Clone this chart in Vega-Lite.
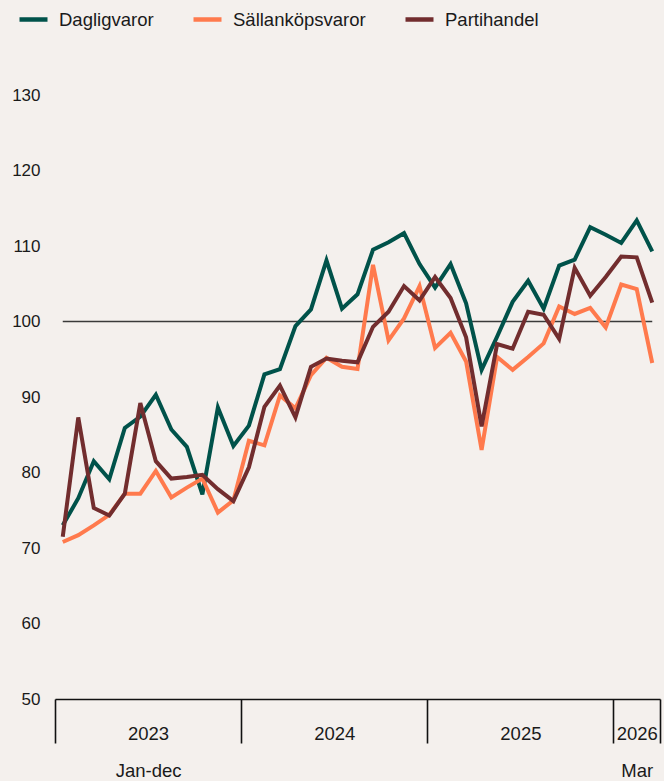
{
  "$schema": "https://vega.github.io/schema/vega-lite/v6.json",
  "width": 605,
  "height": 604,
  "autosize": {"type": "none"},
  "padding": {"left": 55, "top": 95, "right": 4, "bottom": 82},
  "background": "#f4f0ed",
  "config": {
    "view": {"stroke": null},
    "font": "Liberation Sans",
    "axis": {"labelFont": "Liberation Sans", "labelColor": "#1a1a1a", "grid": false},
    "legend": {"labelFont": "Liberation Sans"}
  },
  "datasets": {
    "index": [
      {"t": 0, "month": "2023-01", "Dagligvaror": 73.0, "Sällanköpsvaror": 70.8, "Partihandel": 71.5},
      {"t": 1, "month": "2023-02", "Dagligvaror": 76.6, "Sällanköpsvaror": 71.7, "Partihandel": 87.3},
      {"t": 2, "month": "2023-03", "Dagligvaror": 81.5, "Sällanköpsvaror": 73.0, "Partihandel": 75.3},
      {"t": 3, "month": "2023-04", "Dagligvaror": 79.1, "Sällanköpsvaror": 74.4, "Partihandel": 74.3},
      {"t": 4, "month": "2023-05", "Dagligvaror": 85.9, "Sällanköpsvaror": 77.2, "Partihandel": 77.2},
      {"t": 5, "month": "2023-06", "Dagligvaror": 87.4, "Sällanköpsvaror": 77.2, "Partihandel": 89.2},
      {"t": 6, "month": "2023-07", "Dagligvaror": 90.3, "Sällanköpsvaror": 80.2, "Partihandel": 81.5},
      {"t": 7, "month": "2023-08", "Dagligvaror": 85.7, "Sällanköpsvaror": 76.7, "Partihandel": 79.2},
      {"t": 8, "month": "2023-09", "Dagligvaror": 83.4, "Sällanköpsvaror": 78.0, "Partihandel": 79.4},
      {"t": 9, "month": "2023-10", "Dagligvaror": 77.1, "Sällanköpsvaror": 79.2, "Partihandel": 79.7},
      {"t": 10, "month": "2023-11", "Dagligvaror": 88.6, "Sällanköpsvaror": 74.7, "Partihandel": 77.8},
      {"t": 11, "month": "2023-12", "Dagligvaror": 83.5, "Sällanköpsvaror": 76.3, "Partihandel": 76.2},
      {"t": 12, "month": "2024-01", "Dagligvaror": 86.2, "Sällanköpsvaror": 84.2, "Partihandel": 80.7},
      {"t": 13, "month": "2024-02", "Dagligvaror": 93.0, "Sällanköpsvaror": 83.6, "Partihandel": 88.7},
      {"t": 14, "month": "2024-03", "Dagligvaror": 93.7, "Sällanköpsvaror": 90.2, "Partihandel": 91.5},
      {"t": 15, "month": "2024-04", "Dagligvaror": 99.4, "Sällanköpsvaror": 88.5, "Partihandel": 87.3},
      {"t": 16, "month": "2024-05", "Dagligvaror": 101.6, "Sällanköpsvaror": 92.9, "Partihandel": 94.0},
      {"t": 17, "month": "2024-06", "Dagligvaror": 108.1, "Sällanköpsvaror": 95.2, "Partihandel": 95.1},
      {"t": 18, "month": "2024-07", "Dagligvaror": 101.7, "Sällanköpsvaror": 94.0, "Partihandel": 94.8},
      {"t": 19, "month": "2024-08", "Dagligvaror": 103.6, "Sällanköpsvaror": 93.7, "Partihandel": 94.6},
      {"t": 20, "month": "2024-09", "Dagligvaror": 109.5, "Sällanköpsvaror": 107.5, "Partihandel": 99.3},
      {"t": 21, "month": "2024-10", "Dagligvaror": 110.5, "Sällanköpsvaror": 97.5, "Partihandel": 101.3},
      {"t": 22, "month": "2024-11", "Dagligvaror": 111.7, "Sällanköpsvaror": 100.4, "Partihandel": 104.7},
      {"t": 23, "month": "2024-12", "Dagligvaror": 107.6, "Sällanköpsvaror": 104.7, "Partihandel": 102.8},
      {"t": 24, "month": "2025-01", "Dagligvaror": 104.5, "Sällanköpsvaror": 96.5, "Partihandel": 105.9},
      {"t": 25, "month": "2025-02", "Dagligvaror": 107.6, "Sällanköpsvaror": 98.5, "Partihandel": 103.1},
      {"t": 26, "month": "2025-03", "Dagligvaror": 102.4, "Sällanköpsvaror": 94.7, "Partihandel": 97.9},
      {"t": 27, "month": "2025-04", "Dagligvaror": 93.6, "Sällanköpsvaror": 83.0, "Partihandel": 86.1},
      {"t": 28, "month": "2025-05", "Dagligvaror": 98.0, "Sällanköpsvaror": 95.3, "Partihandel": 97.0},
      {"t": 29, "month": "2025-06", "Dagligvaror": 102.6, "Sällanköpsvaror": 93.6, "Partihandel": 96.4},
      {"t": 30, "month": "2025-07", "Dagligvaror": 105.4, "Sällanköpsvaror": 95.3, "Partihandel": 101.3},
      {"t": 31, "month": "2025-08", "Dagligvaror": 101.7, "Sällanköpsvaror": 97.1, "Partihandel": 100.9},
      {"t": 32, "month": "2025-09", "Dagligvaror": 107.4, "Sällanköpsvaror": 102.0, "Partihandel": 97.7},
      {"t": 33, "month": "2025-10", "Dagligvaror": 108.2, "Sällanköpsvaror": 101.0, "Partihandel": 107.1},
      {"t": 34, "month": "2025-11", "Dagligvaror": 112.5, "Sällanköpsvaror": 101.8, "Partihandel": 103.4},
      {"t": 35, "month": "2025-12", "Dagligvaror": 111.5, "Sällanköpsvaror": 99.2, "Partihandel": 105.9},
      {"t": 36, "month": "2026-01", "Dagligvaror": 110.4, "Sällanköpsvaror": 104.9, "Partihandel": 108.6},
      {"t": 37, "month": "2026-02", "Dagligvaror": 113.4, "Sällanköpsvaror": 104.3, "Partihandel": 108.5},
      {"t": 38, "month": "2026-03", "Dagligvaror": 109.3, "Sällanköpsvaror": 94.5, "Partihandel": 102.5}
    ],
    "reference": [
      {"level": 100, "first": 0, "last": 38}
    ]
  },
  "resolve": {"axis": {"x": "independent", "y": "independent"}},
  "layer": [
    {
      "data": {"name": "reference"},
      "mark": {"type": "rule", "color": "#3a3a3a", "strokeWidth": 1.5},
      "encoding": {
        "x": {
          "field": "first",
          "type": "quantitative",
          "scale": {"domain": [-0.5, 38.5], "nice": false, "zero": false},
          "axis": {
            "orient": "bottom",
            "title": null,
            "values": [5.5, 17.5, 29.5, 37],
            "labelExpr": "datum.value == 5.5 ? ['2023', 'Jan-dec'] : datum.value == 17.5 ? '2024' : datum.value == 29.5 ? '2025' : ['2026', 'Mar']",
            "ticks": false,
            "tickSize": 0,
            "domain": false,
            "labelFontSize": 18.5,
            "labelPadding": 25,
            "labelLineHeight": 37,
            "labelOverlap": false,
            "labelFlush": false,
            "labelBound": false,
            "labelAlign": "center",
            "labelBaseline": "top"
          }
        },
        "x2": {"field": "last"},
        "y": {"field": "level", "type": "quantitative", "axis": null}
      }
    },
    {
      "data": {"name": "index"},
      "transform": [
        {"fold": ["Dagligvaror", "Sällanköpsvaror", "Partihandel"], "as": ["serie", "value"]}
      ],
      "mark": {"type": "line", "strokeWidth": 4},
      "encoding": {
        "x": {
          "field": "t",
          "type": "quantitative",
          "scale": {"domain": [-0.5, 38.5], "nice": false, "zero": false},
          "axis": {
            "orient": "bottom",
            "title": null,
            "values": [-0.5, 11.5, 23.5, 35.5, 38.5],
            "labels": false,
            "ticks": true,
            "tickSize": 44,
            "tickWidth": 1.6,
            "tickColor": "#111111",
            "domain": true,
            "domainColor": "#111111",
            "domainWidth": 1.6
          }
        },
        "y": {
          "field": "value",
          "type": "quantitative",
          "scale": {"domain": [50, 130], "nice": false, "zero": false},
          "axis": {
            "title": null,
            "values": [50, 60, 70, 80, 90, 100, 110, 120, 130],
            "domain": false,
            "ticks": false,
            "tickSize": 0,
            "labelFontSize": 17,
            "labelPadding": 15,
            "labelAlign": "right",
            "labelBaseline": "middle"
          }
        },
        "color": {
          "field": "serie",
          "type": "nominal",
          "scale": {
            "domain": ["Dagligvaror", "Sällanköpsvaror", "Partihandel"],
            "range": ["#00524a", "#ff7a4d", "#722d2e"]
          },
          "legend": {
            "title": null,
            "orient": "none",
            "legendX": -38,
            "legendY": -92,
            "direction": "horizontal",
            "symbolType": "stroke",
            "symbolSize": 784,
            "symbolStrokeWidth": 4.5,
            "labelFontSize": 18.5,
            "labelColor": "#1a1a1a",
            "labelOffset": 9,
            "columnPadding": 30,
            "padding": 0
          }
        }
      }
    }
  ]
}
